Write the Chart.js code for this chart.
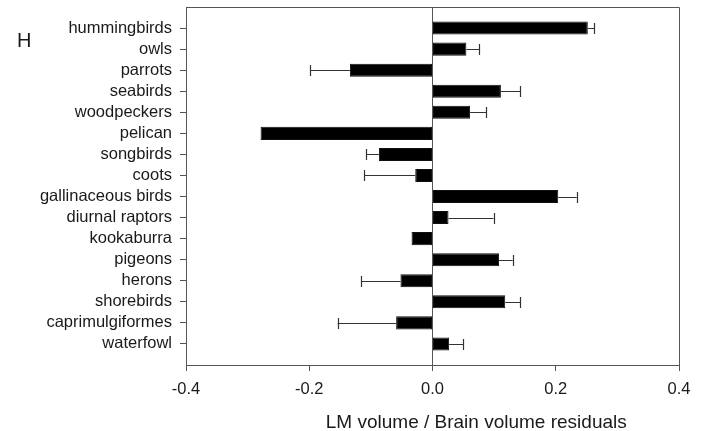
<!DOCTYPE html>
<html>
<head>
<meta charset="utf-8">
<script src="https://cdn.jsdelivr.net/npm/chart.js@4.4.1/dist/chart.umd.min.js"></script>
<style>
  html, body { margin: 0; padding: 0; background: #fff; }
  #wrap { width: 708px; height: 431px; }
</style>
</head>
<body>
<div id="wrap"><canvas id="chart" width="708" height="431"></canvas></div>
<script>
// bird groups, top to bottom
const groups = [
    'hummingbirds', 'owls', 'parrots', 'seabirds', 'woodpeckers', 'pelican',
    'songbirds', 'coots', 'gallinaceous birds', 'diurnal raptors', 'kookaburra',
    'pigeons', 'herons', 'shorebirds', 'caprimulgiformes', 'waterfowl'
];
// mean residuals
const residuals = [
    0.252, 0.055, -0.134, 0.111, 0.061, -0.279,
    -0.087, -0.028, 0.204, 0.026, -0.034,
    0.108, -0.052, 0.118, -0.059, 0.027
];
// one-sided error (0 = no bar drawn)
const errors = [
    0.010, 0.021, 0.064, 0.031, 0.026, 0,
    0.021, 0.083, 0.030, 0.073, 0,
    0.022, 0.064, 0.024, 0.095, 0.023
];
const xTicks = [-0.4, -0.2, 0.0, 0.2, 0.4];

const FONT = '"Liberation Sans", Arial, sans-serif';
const AXIS = '#555';
const TEXT = '#1a1a1a';

// error whiskers, box edges and the extra texts
const extras = {
    id: 'extras',
    afterDatasetsDraw(chart) {
        const ctx = chart.ctx;
        const xs = chart.scales.x;
        const meta = chart.getDatasetMeta(0);
        ctx.save();
        ctx.strokeStyle = '#333';
        ctx.lineWidth = 1.2;
        meta.data.forEach((bar, i) => {
            const err = errors[i];
            if (!err) return;
            const v = residuals[i];
            const end = xs.getPixelForValue(v + (v < 0 ? -err : err));
            const y = Math.round(bar.y) + 0.5;
            ctx.beginPath();
            ctx.moveTo(bar.x, y);
            ctx.lineTo(end, y);
            ctx.moveTo(Math.round(end) + 0.5, y - 5.5);
            ctx.lineTo(Math.round(end) + 0.5, y + 5.5);
            ctx.stroke();
        });
        ctx.restore();
    },
    afterDraw(chart) {
        const ctx = chart.ctx;
        const a = chart.chartArea;
        const xs = chart.scales.x;
        ctx.save();
        ctx.strokeStyle = AXIS;
        ctx.lineWidth = 1;
        ctx.beginPath();
        ctx.moveTo(a.left, a.top + 0.5);
        ctx.lineTo(a.right + 0.5, a.top + 0.5);
        ctx.lineTo(a.right + 0.5, a.bottom);
        ctx.stroke();

        ctx.fillStyle = TEXT;
        ctx.textBaseline = 'alphabetic';
        ctx.textAlign = 'center';
        ctx.font = '19px ' + FONT;
        ctx.fillText('LM volume / Brain volume residuals', xs.getPixelForValue(0.071), 428);

        ctx.textAlign = 'left';
        ctx.font = '20px ' + FONT;
        ctx.fillText('H', 17, 47);
        ctx.restore();
    }
};

const config = {
    type: 'bar',
    data: {
        datasets: [{
            data: residuals.map((v, i) => ({ x: v, y: i })),
            backgroundColor: '#000',
            borderColor: '#111',
            borderWidth: 1,
            borderSkipped: false,
            barPercentage: 0.62,
            categoryPercentage: 1.0
        }]
    },
    options: {
        indexAxis: 'y',
        responsive: false,
        animation: false,
        layout: { padding: { top: 7, right: 29, left: 0, bottom: 0 } },
        plugins: {
            legend: { display: false },
            tooltip: { enabled: false }
        },
        scales: {
            x: {
                type: 'linear',
                min: -0.4,
                max: 0.4,
                afterBuildTicks: (s) => { s.ticks = xTicks.map(v => ({ value: v })); },
                afterFit: (s) => { s.height = 66; },
                border: { display: true, color: AXIS, width: 1 },
                grid: {
                    drawOnChartArea: true,
                    color: (c) => (c.tick && c.tick.value === 0 ? AXIS : 'rgba(0,0,0,0)'),
                    tickColor: AXIS,
                    tickLength: 6
                },
                ticks: {
                    color: TEXT,
                    padding: 9,
                    font: { family: FONT, size: 16.5 },
                    callback: (v) => Number(v).toFixed(1)
                }
            },
            y: {
                type: 'linear',
                reverse: true,
                offset: false,
                min: -1,
                max: 16,
                afterBuildTicks: (s) => { s.ticks = groups.map((_, i) => ({ value: i })); },
                afterFit: (s) => {
                    s.width = 186;
                    s.paddingTop = 0;
                    s.paddingBottom = 0;
                },
                border: { display: true, color: AXIS, width: 1 },
                grid: {
                    offset: false,
                    drawOnChartArea: false,
                    tickColor: AXIS,
                    tickLength: 6
                },
                ticks: {
                    color: TEXT,
                    padding: 8,
                    autoSkip: false,
                    font: { family: FONT, size: 16.5 },
                    callback: (v) => groups[v]
                }
            }
        }
    },
    plugins: [extras]
};

new Chart(document.getElementById('chart'), config);
</script>
</body>
</html>
